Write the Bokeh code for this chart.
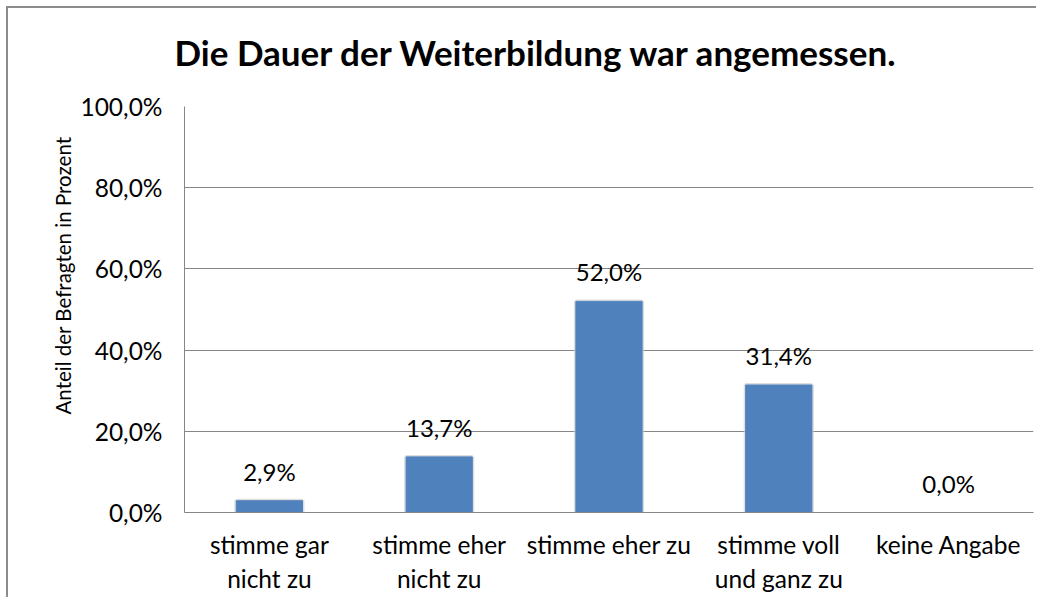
from bokeh.plotting import figure
from bokeh.models import FixedTicker, ColumnDataSource, Range1d, Title
from bokeh.core.properties import value
from bokeh.embed import file_html
from bokeh.resources import INLINE

categories = ["stimme gar\nnicht zu", "stimme eher\nnicht zu", "stimme eher zu",
              "stimme voll\nund ganz zu", "keine Angabe"]
values = [2.9, 13.7, 52.0, 31.4, 0.0]
labels = ["2,9%", "13,7%", "52,0%", "31,4%", "0,0%"]
y_ticks = [0, 20, 40, 60, 80, 100]
y_tick_labels = ["0,0%", "20,0%", "40,0%", "60,0%", "80,0%", "100,0%"]

FONT = "Lato"

src = ColumnDataSource(dict(cat=categories, val=values, lab=labels,
                            shadow_alpha=[0.7 if v > 0 else 0.0 for v in values]))

p = figure(x_range=categories, y_range=Range1d(0, 100), width=1030, height=591,
           output_backend="svg", toolbar_location=None, title=None,
           min_border_left=176, min_border_right=5, min_border_top=98, min_border_bottom=87)

# spacer (closest to the frame) then the real title above it
p.add_layout(Title(text=" ", text_font=FONT, text_font_size="26px", standoff=0), "above")
p.add_layout(Title(text="Die Dauer der Weiterbildung war angemessen.", align="left",
                   offset=-10, standoff=0, text_font=FONT, text_font_size="35px",
                   text_font_style="bold", text_color="black"), "above")

p.add_layout(Title(text="Anteil der Befragten in Prozent", align="left", offset=98,
                   standoff=5, text_font=FONT, text_font_size="20.5px",
                   text_font_style="normal", text_color="black"), "left")

# soft shadow behind bars
p.vbar(x="cat", top="val", width=0.39, source=src, fill_color=None,
       line_color="#d0d0d0", line_width=4, line_alpha="shadow_alpha")
p.vbar(x="cat", top="val", width=0.39, source=src, fill_color="#4F81BD",
       line_color="#4F81BD")
p.text(x="cat", y="val", text="lab", source=src, text_align="center",
       text_baseline="bottom", y_offset=-15, text_font=value(FONT),
       text_font_size="24px", text_color="black")

p.yaxis.ticker = FixedTicker(ticks=y_ticks)
p.yaxis.major_label_overrides = {t: l for t, l in zip(y_ticks, y_tick_labels)}

for ax in (p.xaxis, p.yaxis):
    ax.major_label_text_font = FONT
    ax.major_label_text_font_size = "24.5px"
    ax.major_label_text_color = "black"
    ax.axis_line_color = "#868686"
    ax.major_tick_line_color = None
    ax.minor_tick_line_color = None
    ax.major_tick_out = 0
    ax.major_tick_in = 0
p.yaxis.major_label_standoff = 22
p.xaxis.major_label_standoff = 17

p.xgrid.grid_line_color = None
p.ygrid.grid_line_color = "#868686"
p.ygrid.ticker = FixedTicker(ticks=y_ticks)
p.outline_line_color = None
p.styles = {"border-left": "2px solid #8c8c8c", "border-top": "2px solid #8c8c8c",
            "margin-left": "6px", "margin-top": "6px"}

open("out.html", "w").write(file_html(p, INLINE))
